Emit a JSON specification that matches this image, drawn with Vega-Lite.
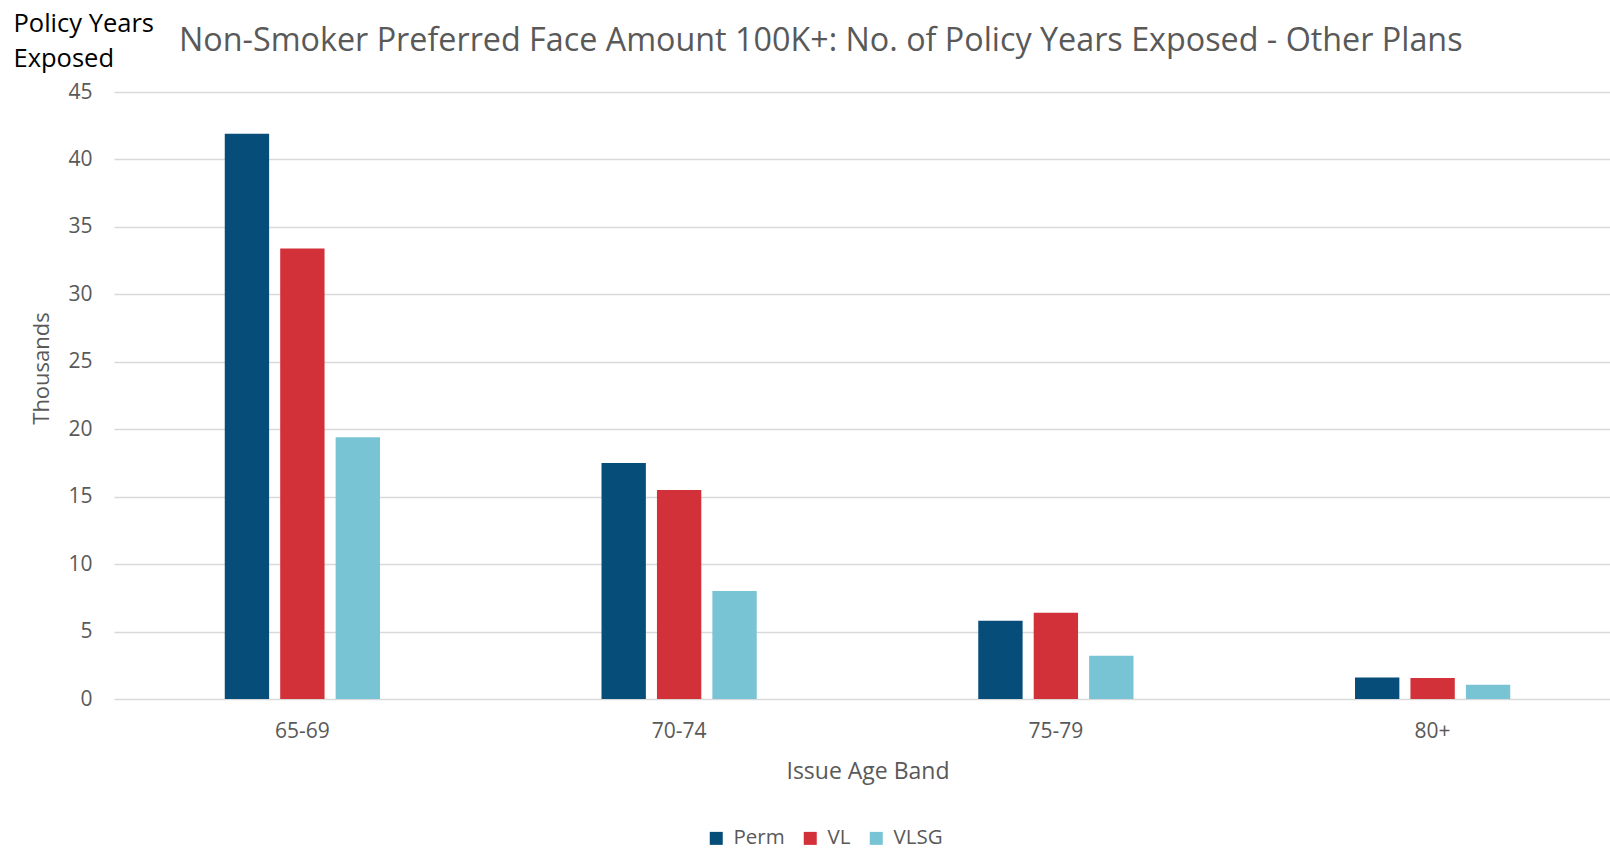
{
  "$schema": "https://vega.github.io/schema/vega-lite/v6.json",
  "width": 1507,
  "height": 607,
  "autosize": {"type": "none"},
  "padding": {"left": 114, "top": 92, "right": 0, "bottom": 151},
  "background": "white",
  "config": {
    "font": "Open Sans",
    "view": {"stroke": null},
    "axis": {"labelColor": "#595959", "titleColor": "#595959", "titleFontWeight": "normal"}
  },
  "title": {
    "text": "Non-Smoker Preferred Face Amount 100K+: No. of Policy Years Exposed - Other Plans",
    "anchor": "start",
    "frame": "group",
    "dx": 65,
    "dy": 85,
    "offset": 39,
    "fontSize": 32.3,
    "fontWeight": "normal",
    "color": "#595959",
    "font": "Open Sans"
  },
  "data": {
    "values": [
      {"band": "65-69", "plan": "Perm", "value": 41.9},
      {"band": "65-69", "plan": "VL", "value": 33.4},
      {"band": "65-69", "plan": "VLSG", "value": 19.4},
      {"band": "70-74", "plan": "Perm", "value": 17.5},
      {"band": "70-74", "plan": "VL", "value": 15.5},
      {"band": "70-74", "plan": "VLSG", "value": 8.0},
      {"band": "75-79", "plan": "Perm", "value": 5.8},
      {"band": "75-79", "plan": "VL", "value": 6.4},
      {"band": "75-79", "plan": "VLSG", "value": 3.2},
      {"band": "80+", "plan": "Perm", "value": 1.6},
      {"band": "80+", "plan": "VL", "value": 1.55},
      {"band": "80+", "plan": "VLSG", "value": 1.05}
    ]
  },
  "encoding": {
    "x": {
      "field": "band",
      "type": "nominal",
      "sort": ["65-69", "70-74", "75-79", "80+"],
      "scale": {"paddingInner": 0.588, "paddingOuter": 0.294},
      "axis": {
        "title": "Issue Age Band",
        "labelAngle": 0,
        "labelFontSize": 21,
        "labelPadding": 21,
        "ticks": false,
        "tickSize": 0,
        "domain": false,
        "titleFontSize": 23,
        "titlePadding": 19
      }
    },
    "xOffset": {
      "field": "plan",
      "type": "nominal",
      "sort": ["Perm", "VL", "VLSG"],
      "scale": {"paddingInner": 0.2, "paddingOuter": 0}
    }
  },
  "layer": [
    {
      "mark": {"type": "bar"},
      "encoding": {
        "y": {
          "field": "value",
          "type": "quantitative",
          "scale": {"domain": [0, 45], "nice": false},
          "axis": {
            "orient": "left",
            "title": "Thousands",
            "titleFontSize": 22,
            "titleAngle": -90,
            "titleAlign": "center",
            "titleBaseline": "middle",
            "titleX": -73,
            "titleY": 276,
            "values": [0, 5, 10, 15, 20, 25, 30, 35, 40, 45],
            "labelFontSize": 21,
            "labelPadding": 22,
            "ticks": false,
            "tickSize": 0,
            "domain": false,
            "grid": true,
            "gridColor": "#D9D9D9",
            "gridWidth": 1.4
          }
        },
        "color": {
          "field": "plan",
          "type": "nominal",
          "sort": ["Perm", "VL", "VLSG"],
          "scale": {"domain": ["Perm", "VL", "VLSG"], "range": ["#064D7A", "#D33139", "#78C4D4"]},
          "legend": {
            "title": null,
            "orient": "none",
            "direction": "horizontal",
            "legendX": 592,
            "legendY": 736,
            "symbolType": "square",
            "symbolSize": 169,
            "symbolStrokeWidth": 0,
            "labelFontSize": 20.5,
            "labelColor": "#595959",
            "labelOffset": 7,
            "columnPadding": 15,
            "padding": 0
          }
        }
      }
    },
    {
      "mark": {"type": "bar", "opacity": 0},
      "encoding": {
        "y": {
          "field": "value",
          "type": "quantitative",
          "axis": {
            "orient": "left",
            "title": ["Policy Years", "Exposed"],
            "titleColor": "#000000",
            "titleFontSize": 25.5,
            "titleLineHeight": 35,
            "titleAngle": 0,
            "titleAlign": "left",
            "titleBaseline": "top",
            "titleX": -101,
            "titleY": -81,
            "labels": false,
            "ticks": false,
            "domain": false,
            "grid": false
          }
        }
      }
    }
  ],
  "resolve": {"axis": {"y": "independent"}}
}
